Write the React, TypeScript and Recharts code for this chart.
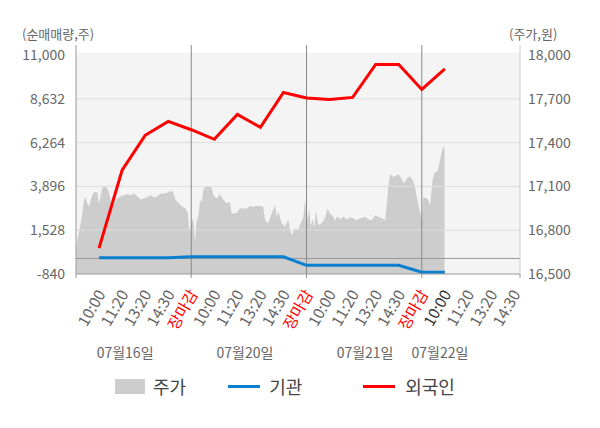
import React from 'react';
import { ComposedChart, Area, Line, XAxis, YAxis, ReferenceLine, ReferenceArea } from 'recharts';

// ---- x axis slots (numeric positions) ----
const slotTicks = [0, 1, 2, 3, 4, 5, 6, 7, 8, 9, 10, 11, 12, 13, 14, 15, 16, 17, 18, 19];
const slotLabels = ['', '10:00', '11:20', '13:20', '14:30', '장마감', '10:00', '11:20', '13:20', '14:30', '장마감', '10:00', '11:20', '13:20', '14:30', '장마감', '10:00', '11:20', '13:20', '14:30'];
const xEnd = 19.26;
const latestSlot = 16;
const closeSlots = [5, 10, 15];

const dateLabels = ['07월16일', '07월20일', '07월21일', '07월22일'];
const datePos = [2.13, 7.33, 12.54, 15.79];

// ---- net buying (left axis) ----
const flowSlots = [1, 2, 3, 4, 5, 6, 7, 8, 9, 10, 11, 12, 13, 14, 15, 16];
const foreignNet = [562, 4770, 6658, 7413, 6960, 6442, 7790, 7089, 8977, 8680, 8600, 8707, 10487, 10487, 9139, 10245];
const instNet = [40, 40, 40, 40, 93, 93, 93, 93, 93, -371, -371, -371, -371, -371, -748, -748];

// ---- stock price (right axis) ----
const priceTimes = [
  0, 0.056, 0.13, 0.204, 0.273, 0.347, 0.421, 0.49, 0.564, 0.638, 0.707, 0.781, 0.924, 0.998, 1.072, 1.141,
  1.289, 1.358, 1.432, 1.505, 1.575, 1.649, 1.792, 1.939, 2.082, 2.226, 2.373, 2.516, 2.659, 2.807, 2.95,
  3.093, 3.241, 3.384, 3.527, 3.675, 3.818, 3.961, 4.108, 4.208, 4.325, 4.469, 4.612, 4.759, 4.859, 4.902,
  4.946, 5.02, 5.089, 5.163, 5.236, 5.306, 5.38, 5.453, 5.523, 5.597, 5.74, 5.887, 5.957, 6.104, 6.247,
  6.39, 6.538, 6.681, 6.755, 6.972, 7.115, 7.406, 7.549, 7.692, 7.839, 7.983, 8.126, 8.2, 8.343, 8.49,
  8.633, 8.707, 8.777, 8.924, 9.067, 9.21, 9.284, 9.358, 9.501, 9.644, 9.718, 9.861, 9.935, 10.009, 10.122,
  10.182, 10.269, 10.325, 10.412, 10.512, 10.659, 10.803, 10.902, 11.02, 11.163, 11.236, 11.336, 11.453,
  11.597, 11.744, 11.887, 12.03, 12.178, 12.321, 12.538, 12.681, 12.829, 12.972, 13.115, 13.262, 13.406,
  13.479, 13.549, 13.623, 13.766, 13.913, 13.983, 14.13, 14.23, 14.347, 14.49, 14.607, 14.707, 14.781,
  14.85, 14.924, 14.998, 15.067, 15.215, 15.284, 15.358, 15.475, 15.575, 15.675, 15.761, 15.866, 15.935, 15.987,
];
const prices = [
  16664, 16732, 16789, 16847, 16915, 17006, 17024, 16983, 16960, 17006, 17040, 17062, 17062, 16983, 17040, 17093,
  17097, 17086, 17062, 17006, 16960, 16983, 17017, 17033, 17040, 17047, 17040, 17052, 17033, 17010, 17017,
  17028, 17040, 17024, 17033, 17052, 17052, 17056, 17069, 17062, 17006, 16983, 16960, 16949, 16915, 16812,
  16801, 16857, 16881, 16721, 16869, 16892, 17006, 16994, 17074, 17097, 17097, 17093, 17040, 17017, 17047,
  17006, 16983, 16994, 16915, 16919, 16949, 16949, 16965, 16960, 16965, 16965, 16960, 16869, 16847, 16915,
  16972, 16892, 16926, 16847, 16823, 16874, 16801, 16767, 16812, 16805, 16835, 16892, 17010, 16857, 16942,
  16823, 16881, 16812, 16937, 16835, 16847, 16881, 16949, 16915, 16892, 16864, 16896, 16874,
  16892, 16874, 16888, 16881, 16869, 16881, 16892, 16874, 16869, 16903, 16892, 16881, 16869,
  16972, 17097, 17183, 17165, 17177, 17183, 17154, 17120, 17154, 17170, 17142, 17097, 17028,
  16972, 16926, 16869, 17028, 17017, 17006, 16965, 17154, 17199, 17199, 17257, 17336, 17375, 17359,
];

const volTicks = [-840, 1528, 3896, 6264, 8632, 11000];
const gridVals = [1528, 3896, 6264, 8632];
const priceTicks = [16500, 16800, 17100, 17400, 17700, 18000];

const priceData = priceTimes.map((t, i) => ({ t, price: prices[i] }));
const flowData = flowSlots.map((t, i) => ({ t, foreign: foreignNet[i], inst: instNet[i] }));

const FONT = "'Noto Sans CJK KR', 'Noto Sans', sans-serif";

const fmt = (v: number) => v.toLocaleString('en-US');

const TimeTick = (props: any) => {
  const { x, y, payload } = props;
  const v = payload.value;
  const idx = slotTicks.indexOf(v);
  const label = idx >= 0 ? slotLabels[idx] : '';
  const isEdge = v === 0 || closeSlots.includes(v) || v === xEnd;
  const color = label === '장마감' ? '#ff0000' : v === latestSlot ? '#333333' : '#666666';
  const ax = x + 7;
  const ay = y + 20;
  return (
    <g>
      {isEdge && <line x1={x} y1={y} x2={x} y2={y + 4} stroke="#999" strokeWidth={1} />}
      {label && (
        <text x={ax} y={ay} transform={`rotate(-60, ${ax}, ${ay})`} textAnchor="end" fill={color} fontSize={15.5}>
          {label}
        </text>
      )}
    </g>
  );
};

const DateTick = (props: any) => {
  const { x, y, payload } = props;
  const idx = datePos.indexOf(payload.value);
  return (
    <text x={x} y={y + 13} dy="0.355em" textAnchor="middle" fill="#666" fontSize={14}>
      {idx >= 0 ? dateLabels[idx] : ''}
    </text>
  );
};

export default function App() {
  return (
    <div style={{ position: 'relative', width: 584, height: 412, fontFamily: FONT }}>
      <ComposedChart width={584} height={412} margin={{ top: 37, right: 0, bottom: 50, left: 0 }}>
        <XAxis
          dataKey="t"
          type="number"
          domain={[0, xEnd]}
          ticks={[...slotTicks, xEnd]}
          interval={0}
          tick={<TimeTick />}
          tickLine={false}
          tickSize={0}
          tickMargin={0}
          axisLine={{ stroke: '#999' }}
          height={66}
          allowDataOverflow
        />
        <XAxis
          xAxisId="date"
          dataKey="t"
          type="number"
          domain={[0, xEnd]}
          ticks={datePos}
          interval={0}
          tick={<DateTick />}
          tickLine={false}
          tickSize={0}
          tickMargin={0}
          axisLine={false}
          height={30}
          allowDataOverflow
        />
        <YAxis
          yAxisId="left"
          orientation="left"
          domain={[-840, 11000]}
          ticks={volTicks}
          interval={0}
          padding={{ top: 10, bottom: 0 }}
          width={68}
          tickLine={false}
          tickSize={0}
          tickMargin={11}
          tickFormatter={fmt}
          tick={{ fill: '#666', fontSize: 14 }}
          axisLine={{ stroke: '#999' }}
          allowDataOverflow
        />
        <YAxis
          yAxisId="right"
          orientation="right"
          domain={[16500, 18000]}
          ticks={priceTicks}
          interval={0}
          padding={{ top: 10, bottom: 0 }}
          width={72}
          tickLine={false}
          tickSize={0}
          tickMargin={8}
          tickFormatter={fmt}
          tick={{ fill: '#666', fontSize: 14 }}
          axisLine={{ stroke: '#ccc' }}
          allowDataOverflow
        />
        <ReferenceArea
          yAxisId="left"
          x1={0}
          x2={xEnd}
          y1={-840}
          y2={11135}
          fill="#f4f4f4"
          fillOpacity={1}
          stroke="none"
          ifOverflow="visible"
        />
        <Area
          yAxisId="right"
          data={priceData}
          dataKey="price"
          type="linear"
          fill="#cdcdcd"
          fillOpacity={1}
          stroke="none"
          isAnimationActive={false}
          dot={false}
          activeDot={false}
        />
        {gridVals.map((v) => (
          <ReferenceLine key={v} yAxisId="left" y={v} stroke="#dddddd" strokeWidth={1} />
        ))}
        <ReferenceLine yAxisId="left" y={0} stroke="#999" strokeWidth={1} />
        {closeSlots.map((s) => (
          <ReferenceLine key={s} yAxisId="left" x={s} stroke="#888" strokeWidth={1} />
        ))}
        <Line
          yAxisId="left"
          data={flowData}
          dataKey="inst"
          type="linear"
          stroke="#0a7fd0"
          strokeWidth={3}
          dot={false}
          activeDot={false}
          isAnimationActive={false}
        />
        <Line
          yAxisId="left"
          data={flowData}
          dataKey="foreign"
          type="linear"
          stroke="#ff0000"
          strokeWidth={3}
          dot={false}
          activeDot={false}
          isAnimationActive={false}
        />
      </ComposedChart>

      <div style={{ position: 'absolute', left: 14, top: 16, fontSize: 13, color: '#666', lineHeight: '20px', whiteSpace: 'nowrap' }}>
        (순매매량,주)
      </div>
      <div style={{ position: 'absolute', left: 501, top: 16, fontSize: 13, color: '#666', lineHeight: '20px', whiteSpace: 'nowrap' }}>
        (주가,원)
      </div>

      <div style={{ position: 'absolute', left: 107, top: 366, height: 24, display: 'flex', alignItems: 'center', fontSize: 18, color: '#444', whiteSpace: 'nowrap' }}>
        <span style={{ display: 'inline-block', width: 30, height: 15, background: '#cdcdcd' }} />
        <span style={{ marginLeft: 8 }}>주가</span>
        <span style={{ display: 'inline-block', width: 32, height: 3, background: '#0a7fd0', marginLeft: 42 }} />
        <span style={{ marginLeft: 9 }}>기관</span>
        <span style={{ display: 'inline-block', width: 32, height: 3, background: '#ff0000', marginLeft: 61 }} />
        <span style={{ marginLeft: 10 }}>외국인</span>
      </div>
    </div>
  );
}
